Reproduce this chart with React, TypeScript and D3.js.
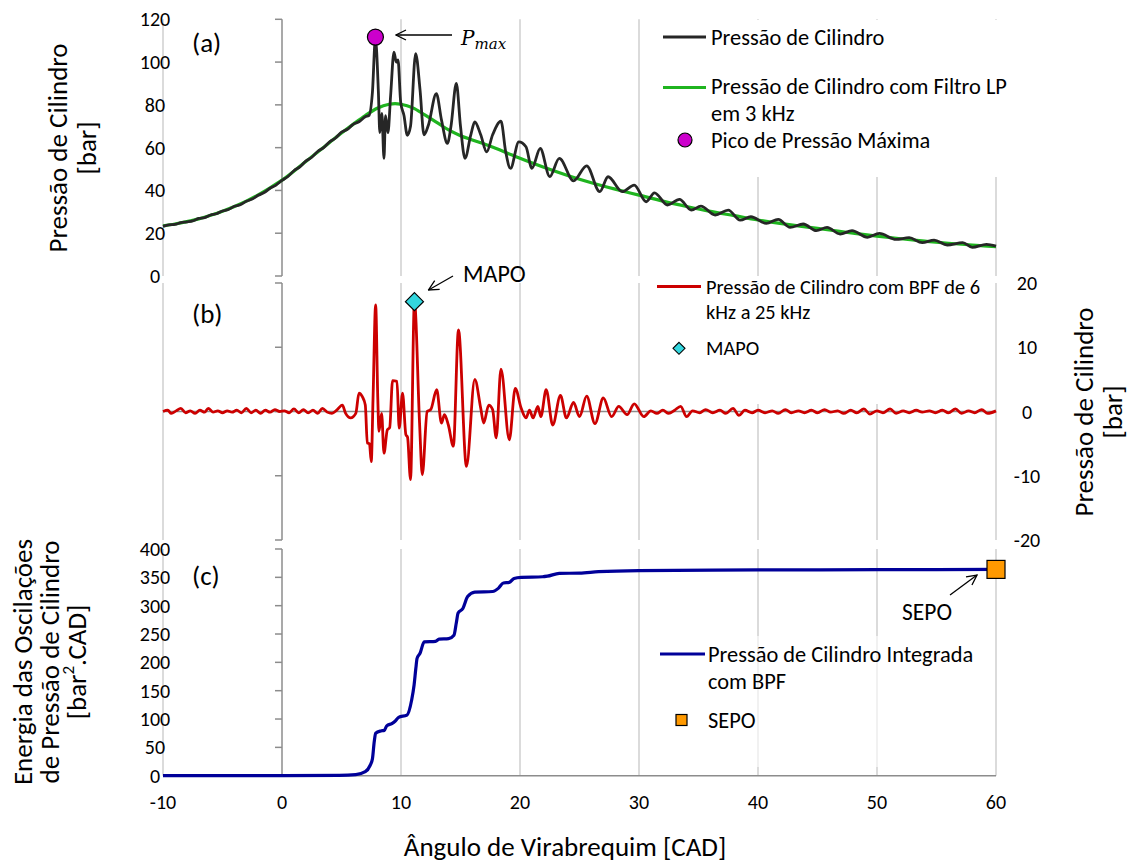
import React from "react";
import * as d3 from "d3";

// ---- data ----
const xTicks = [-10, 0, 10, 20, 30, 40, 50, 60];
const yTicksA = [0, 20, 40, 60, 80, 100, 120];
const yTicksB = [-20, -10, 0, 10, 20];
const yTicksC = [0, 50, 100, 150, 200, 250, 300, 350, 400];

// cylinder pressure (raw) [CAD, bar]
const pressureRaw: [number, number][] = [
  [-10, 23.2], [-9.5, 23.9], [-9, 24.1], [-8.5, 24.9], [-8, 25.3], [-7.5, 25.8], [-7, 26.9], [-6.5, 27.3],
  [-6, 28.5], [-5.5, 29.1], [-5, 30.4], [-4.5, 31.1], [-4, 32.6], [-3.5, 33.3], [-3, 34.9], [-2.5, 36.0],
  [-2, 37.7], [-1.5, 39.0], [-1, 41.0], [-0.5, 42.5], [0, 44.7], [0.5, 46.5], [1, 49.2], [1.5, 51.0],
  [2, 53.7], [2.5, 55.5], [3, 58.2], [3.5, 60.0], [4, 62.7], [4.5, 64.5], [5, 67.2], [5.5, 68.6],
  [6, 71.0], [6.5, 72.2], [7, 74.5], [7.3, 75], [7.6, 86], [7.85, 111], [8.1, 86], [8.22, 67],
  [8.39, 76], [8.57, 55], [8.7, 75], [8.9, 67], [9.13, 84.5], [9.41, 104.7], [9.6, 100], [9.75, 101],
  [9.97, 81.4], [10.25, 75], [10.53, 65.8], [10.8, 70], [11.23, 104], [11.6, 87], [11.93, 66], [12.3, 70.5],
  [12.97, 85.3], [13.4, 73], [13.9, 62], [14.2, 70], [14.65, 90], [15.0, 70], [15.38, 55], [15.86, 65.8],
  [16.2, 72], [16.7, 66], [17.2, 58], [17.7, 66], [18.4, 72.4], [18.8, 58], [19.2, 50.3], [19.9, 62.7],
  [20.5, 60.4], [21.0, 50.3], [21.7, 59.6], [22.5, 46.5], [23.3, 55], [24.5, 44.5], [25.6, 51.5], [26.7, 39.4],
  [27.4, 46.4], [28.6, 39.4], [29.6, 42.5], [30.6, 34.7], [31.3, 38.9], [32.4, 33.2], [33.4, 35.8], [34.4, 30.8],
  [35.2, 32.7], [36.4, 28.5], [37.5, 30.8], [38.5, 26.1], [39.4, 27.7], [40.7, 24.6], [41.7, 26.5], [42.7, 22.7],
  [43.8, 24.3], [44.9, 21.2], [45.8, 22.7], [46.9, 19.6], [47.9, 21.2], [49.2, 18.1], [50.2, 19.9], [51.6, 17.1],
  [52.7, 17.9], [53.8, 15.6], [54.8, 16.8], [55.9, 14.5], [57.2, 15.6], [58.0, 13.4], [59.2, 14.8], [60, 14],
];

// low-pass filtered pressure [CAD, bar]
const pressureLP: [number, number][] = [
  [-10, 23.4], [-9, 24.3], [-8, 25.4], [-7, 26.7], [-6, 28.4], [-5, 30.3], [-4, 32.5], [-3, 35.0],
  [-2, 37.9], [-1, 41.2], [0, 44.8], [1, 49.0], [2, 53.5], [3, 58.0], [4, 62.4], [5, 66.8],
  [6, 71.0], [7, 75.0], [8, 78.4], [9, 80.3], [9.5, 80.6], [10, 80.3], [11, 78.6], [12, 75.3],
  [13, 71.8], [14, 68.3], [15, 65.6], [16, 63.6], [17, 61.7], [18, 59.6], [19, 57.3], [20, 55.0],
  [22, 50.8], [24, 47.0], [26, 43.6], [28, 40.6], [30, 37.8], [32, 35.0], [34, 32.5], [36, 30.2],
  [38, 28.2], [40, 26.2], [42, 24.5], [44, 23.0], [46, 21.5], [48, 20.0], [50, 18.6], [52, 17.4],
  [54, 16.3], [56, 15.3], [58, 14.5], [60, 13.7],
];

// band-pass filtered pressure [CAD, bar]
const pressureBPF: [number, number][] = [
  [-10, 0], [-9.6, 0.2], [-9.3, -0.3], [-8.9, 0.1], [-8.5, 0.5], [-8.1, -0.2], [-7.7, 0.1], [-7.3, -0.3],
  [-6.9, 0.2], [-6.5, -0.1], [-6.2, 0.5], [-5.8, -0.1], [-5.4, 0.1], [-5.0, -0.2], [-4.6, 0.1], [-4.2, -0.1],
  [-3.8, 0.2], [-3.4, -0.2], [-3.0, 0.5], [-2.6, -0.2], [-2.2, 0.2], [-1.8, -0.3], [-1.4, 0.2], [-1.0, -0.1],
  [-0.6, 0.3], [-0.2, 0], [0.2, 0.1], [0.6, -0.2], [1.0, 0.4], [1.4, -0.2], [1.8, 0.3], [2.2, -0.2],
  [2.6, 0.2], [3.0, -0.3], [3.4, 0.5], [3.8, -0.1], [4.2, -0.3], [4.6, 0.2], [5.07, 1.0], [5.35, -0.3],
  [5.77, -1.0], [6.2, -0.3], [6.47, 2.85], [6.75, 2.3], [7.0, 1.0], [7.17, -4.9], [7.35, -5.0], [7.5, -7.8],
  [7.65, 2], [7.87, 16.6], [8.05, 2], [8.15, -3.1], [8.37, -0.3], [8.57, -6.5], [8.85, -2.85], [9.05, -2.5],
  [9.29, 4.8], [9.66, 4.7], [9.85, -2.6], [10.13, 2.85], [10.41, -3.6], [10.55, -4.0], [10.8, -10.6], [11.13, 17.1],
  [11.56, -1.8], [11.79, -9.85], [12.2, 0], [12.5, 0.3], [13.0, 3.4], [13.4, -1.8], [13.65, -0.5], [13.98, -2.1],
  [14.4, -5.4], [14.83, 12.7], [15.5, -8.55], [16.2, 5.0], [16.7, 0.5], [16.95, -1.8], [17.37, 1.0], [17.7, 0.3],
  [18.0, -4.1], [18.4, 6.6], [19.1, -4.4], [19.6, 3.6], [20.1, 0.5], [20.5, -1.0], [20.8, 0.2], [21.1, -1.0],
  [21.5, 0.8], [21.75, -0.8], [22.2, 3.4], [22.75, -2.1], [23.4, 2.5], [23.9, -1.0], [24.5, 1.4], [25.0, -0.8],
  [25.6, 2.4], [26.3, -1.9], [27.0, 2.1], [27.7, -0.8], [28.3, 0.8], [29.0, -0.5], [29.6, 1.2], [30.4, -0.8],
  [31.0, 0.1], [31.5, -0.3], [32.0, 0.2], [32.5, -0.3], [33.0, 0.2], [33.5, 0.8], [34.0, -0.8], [34.5, 0.1],
  [35.1, -0.2], [35.6, 0.3], [36.2, -0.2], [36.8, 0.2], [37.3, -0.3], [37.9, 0.5], [38.4, -0.6], [38.9, 0.2],
  [39.5, -0.2], [40.0, 0.2], [40.6, -0.2], [41.2, 0.1], [41.7, -0.3], [42.3, 0.3], [42.8, -0.2], [43.4, 0.1],
  [43.9, -0.2], [44.5, 0.2], [45.0, -0.2], [45.6, 0.3], [46.1, -0.1], [46.7, 0.1], [47.2, -0.3], [47.8, 0.2],
  [48.3, -0.2], [48.9, 0.4], [49.4, -0.4], [50.0, 0.1], [50.5, -0.2], [51.1, 0.4], [51.6, -0.3], [52.2, 0.1],
  [52.7, -0.2], [53.3, 0.2], [53.8, -0.1], [54.4, 0.1], [54.9, -0.2], [55.5, 0.2], [56.0, -0.2], [56.6, 0.4],
  [57.1, -0.3], [57.7, 0.1], [58.2, -0.2], [58.8, 0.3], [59.3, -0.3], [60, 0.1],
];

// integrated band-pass energy [CAD, bar^2.CAD]
const energy: [number, number][] = [
  [-10, 0], [0, 0], [4.8, 0.5], [6.2, 2], [7.0, 7], [7.4, 18], [7.6, 30], [7.75, 60],
  [7.87, 75], [8.3, 79], [8.6, 80], [8.8, 88], [9.23, 92], [9.5, 96], [9.8, 103], [10.5, 107],
  [10.9, 134], [11.1, 160], [11.25, 190], [11.35, 207], [11.6, 216], [11.95, 236], [12.9, 237], [13.2, 241],
  [14.0, 242], [14.45, 248], [14.65, 270], [14.8, 287], [15.2, 295], [15.6, 316], [16.2, 324], [17.7, 325],
  [18.2, 331], [18.6, 340], [19.1, 341], [19.5, 348], [20.1, 350], [21.9, 351], [22.3, 352], [23.3, 357],
  [25, 357.5], [26.6, 360], [30, 362], [40, 363], [50, 363.5], [60, 364],
];

const pmax: [number, number] = [7.85, 111.7];
const mapo: [number, number] = [11.13, 17.1];
const sepo: [number, number] = [60, 364];

// ---- layout ----
const FONT = "Carlito, Calibri, Lato, 'Open Sans', sans-serif";
const x = d3.scaleLinear().domain([-10, 60]).range([163, 996]);
const yA = d3.scaleLinear().domain([0, 120]).range([276, 19.3]);
const yB = d3.scaleLinear().domain([-20, 20]).range([540, 283]);
const yC = d3.scaleLinear().domain([0, 400]).range([775.7, 549]);

const GRID = "#cfcfcf";
const AXIS = "#8c8c8c";
const TITLE = 27;
const LEG = 22.4;
const LEGB = 20.4;
const TICK = 20;

function mkLine(y: d3.ScaleLinear<number, number>) {
  return d3
    .line<[number, number]>()
    .x((d) => x(d[0]))
    .y((d) => y(d[1]))
    .curve(d3.curveMonotoneX);
}

function Grid({ y }: { y: d3.ScaleLinear<number, number> }) {
  const [y0, y1] = y.range();
  return (
    <g>
      {xTicks.map((t) =>
        t === 0 ? null : (
          <line key={t} x1={x(t)} x2={x(t)} y1={y0} y2={y1} stroke={GRID} strokeWidth={1.5} />
        )
      )}
    </g>
  );
}

function YAxisAtZero({ y, ticks }: { y: d3.ScaleLinear<number, number>; ticks: number[] }) {
  const [y0, y1] = y.range();
  return (
    <g>
      <line x1={x(0)} x2={x(0)} y1={y0} y2={y1} stroke={AXIS} strokeWidth={1.5} />
      {ticks.map((t) => (
        <line key={t} x1={x(0) - 7} x2={x(0)} y1={y(t)} y2={y(t)} stroke={AXIS} strokeWidth={1.5} />
      ))}
    </g>
  );
}

function VText({ cx, cy, size, children }: { cx: number; cy: number; size: number; children: React.ReactNode }) {
  return (
    <g transform={`translate(${cx},${cy}) rotate(-90)`}>
      <text textAnchor="middle" dominantBaseline="central" style={{ fontFamily: FONT, fontSize: size }}>
        {children}
      </text>
    </g>
  );
}

export default function App() {
  const lineA = mkLine(yA);
  const lineB = mkLine(yB);
  const lineC = mkLine(yC);
  const tickStyle = { fontFamily: FONT, fontSize: TICK, fill: "#000" } as const;
  const legStyle = { fontFamily: FONT, fontSize: LEG, fill: "#000" } as const;
  const legStyleB = { fontFamily: FONT, fontSize: LEGB, fill: "#000" } as const;

  return (
    <svg
      width={1130}
      height={862}
      style={{ position: "absolute", left: 0, top: 0, background: "#fff" }}
    >
      <defs>
        <marker id="arr" viewBox="0 0 12 12" refX="11" refY="6" markerWidth="12" markerHeight="12" markerUnits="userSpaceOnUse" orient="auto">
          <path d="M1,1 L11,6 L1,11" fill="none" stroke="#000" strokeWidth={1.3} />
        </marker>
      </defs>
      <rect x={0} y={0} width={1130} height={862} fill="#fff" />

      {/* ---------- panel (a) ---------- */}
      <Grid y={yA} />
      <YAxisAtZero y={yA} ticks={yTicksA} />
      {yTicksA.map((t) => (
        <text key={t} x={155} y={yA(t)} textAnchor="middle" dominantBaseline="central" style={tickStyle}>
          {t}
        </text>
      ))}
      <path d={lineA(pressureLP) || ""} fill="none" stroke="#1fb41f" strokeWidth={3.2} />
      <path d={lineA(pressureRaw) || ""} fill="none" stroke="#262626" strokeWidth={2.8} strokeLinejoin="round" />
      <circle cx={x(pmax[0])} cy={yA(pmax[1])} r={8} fill="#cc00cc" stroke="#000" strokeWidth={1.2} />
      <line x1={452} y1={35} x2={396} y2={35} stroke="#000" strokeWidth={1.3} markerEnd="url(#arr)" />
      <text x={461} y={45} style={{ fontFamily: "'DejaVu Serif', 'Liberation Serif', serif", fontStyle: "italic", fontSize: 20 }}>
        P
        <tspan dy={4} fontSize={15}>max</tspan>
      </text>
      <text x={192} y={42} dominantBaseline="central" style={{ fontFamily: FONT, fontSize: 27 }}>(a)</text>

      {/* legend (a) */}
      <rect x={648} y={20} width={365} height={157} fill="#fff" />
      <line x1={663} x2={706} y1={37} y2={37} stroke="#262626" strokeWidth={3} />
      <text x={711} y={37} dominantBaseline="central" style={legStyle}>Pressão de Cilindro</text>
      <line x1={663} x2={706} y1={87.5} y2={87.5} stroke="#1fb41f" strokeWidth={3} />
      <text x={711} y={86.5} dominantBaseline="central" style={legStyle}>Pressão de Cilindro com Filtro LP</text>
      <text x={711} y={113} dominantBaseline="central" style={legStyle}>em 3 kHz</text>
      <circle cx={685} cy={140} r={7} fill="#cc00cc" stroke="#000" strokeWidth={1.2} />
      <text x={711} y={140} dominantBaseline="central" style={legStyle}>Pico de Pressão Máxima</text>

      {/* left title (a) */}
      <VText cx={57} cy={148} size={TITLE}>Pressão de Cilindro</VText>
      <VText cx={86} cy={148} size={TITLE}>[bar]</VText>

      {/* ---------- panel (b) ---------- */}
      <Grid y={yB} />
      <line x1={x(-10)} x2={x(60)} y1={yB(0)} y2={yB(0)} stroke={AXIS} strokeWidth={1.5} />
      <YAxisAtZero y={yB} ticks={yTicksB} />
      {yTicksB.map((t) => (
        <text key={t} x={1027} y={yB(t)} textAnchor="middle" dominantBaseline="central" style={tickStyle}>
          {t}
        </text>
      ))}
      {/* legend (b) background */}
      <rect x={646} y={284} width={345} height={120} fill="#fff" />
      <path d={lineB(pressureBPF) || ""} fill="none" stroke="#cc0000" strokeWidth={2.8} strokeLinejoin="round" />
      <path
        d={`M${x(mapo[0])},${yB(mapo[1]) - 9} l9,9 l-9,9 l-9,-9 z`}
        fill="#33d6de"
        stroke="#000"
        strokeWidth={1.2}
      />
      <line x1={453} y1={276} x2={428.5} y2={290} stroke="#000" strokeWidth={1.3} markerEnd="url(#arr)" />
      <text x={463} y={273} dominantBaseline="central" style={{ fontFamily: FONT, fontSize: 24 }}>MAPO</text>
      <text x={192} y={313} dominantBaseline="central" style={{ fontFamily: FONT, fontSize: 27 }}>(b)</text>

      <line x1={657} x2={701} y1={286.5} y2={286.5} stroke="#cc0000" strokeWidth={3} />
      <text x={706} y={286.5} dominantBaseline="central" style={legStyleB}>Pressão de Cilindro com BPF de 6</text>
      <text x={706} y={311.5} dominantBaseline="central" style={legStyleB}>kHz a 25 kHz</text>
      <path d="M679,342.3 l6,6 l-6,6 l-6,-6 z" fill="#33d6de" stroke="#000" strokeWidth={1.1} />
      <text x={706} y={348.3} dominantBaseline="central" style={legStyleB}>MAPO</text>

      {/* right title (b) */}
      <VText cx={1083} cy={412} size={TITLE}>Pressão de Cilindro</VText>
      <VText cx={1112} cy={412} size={TITLE}>[bar]</VText>

      {/* ---------- panel (c) ---------- */}
      <Grid y={yC} />
      <YAxisAtZero y={yC} ticks={yTicksC} />
      <rect x={641} y={636} width={350} height={131} fill="#fff" fillOpacity={0.6} />
      <line x1={x(-10)} x2={x(60)} y1={yC(0)} y2={yC(0)} stroke={AXIS} strokeWidth={1.5} />
      {yTicksC.map((t) => (
        <text key={t} x={155} y={yC(t)} textAnchor="middle" dominantBaseline="central" style={tickStyle}>
          {t}
        </text>
      ))}
      <path d={lineC(energy) || ""} fill="none" stroke="#000099" strokeWidth={3.2} strokeLinejoin="round" />
      <rect x={x(sepo[0]) - 9} y={yC(sepo[1]) - 9} width={18} height={18} fill="#ff9900" stroke="#000" strokeWidth={1.2} />
      <line x1={950} y1={595} x2={977} y2={575} stroke="#000" strokeWidth={1.3} markerEnd="url(#arr)" />
      <text x={927} y={612} textAnchor="middle" dominantBaseline="central" style={{ fontFamily: FONT, fontSize: 23.5 }}>SEPO</text>
      <text x={192} y={575} dominantBaseline="central" style={{ fontFamily: FONT, fontSize: 27 }}>(c)</text>

      {/* legend (c) */}
      <line x1={660} x2={705} y1={654} y2={654} stroke="#000099" strokeWidth={3} />
      <text x={708} y={654} dominantBaseline="central" style={legStyle}>Pressão de Cilindro Integrada</text>
      <text x={708} y={681.7} dominantBaseline="central" style={legStyle}>com BPF</text>
      <rect x={676} y={714.5} width={11} height={11} fill="#ff9900" stroke="#000" strokeWidth={1.2} />
      <text x={708} y={720} dominantBaseline="central" style={legStyle}>SEPO</text>

      {/* left title (c) */}
      <VText cx={22} cy={662} size={TITLE}>Energia das Oscilações</VText>
      <VText cx={49} cy={662} size={TITLE}>de Pressão de Cilindro</VText>
      <VText cx={76} cy={662} size={TITLE}>
        [bar<tspan dy={-8} fontSize={17}>2</tspan>
        <tspan dy={8}>.CAD]</tspan>
      </VText>

      {/* x axis tick labels & title */}
      {xTicks.map((t) => (
        <text key={t} x={x(t)} y={802} textAnchor="middle" dominantBaseline="central" style={tickStyle}>
          {t}
        </text>
      ))}
      <text x={565} y={846} textAnchor="middle" dominantBaseline="central" style={{ fontFamily: FONT, fontSize: TITLE }}>
        Ângulo de Virabrequim [CAD]
      </text>
    </svg>
  );
}
